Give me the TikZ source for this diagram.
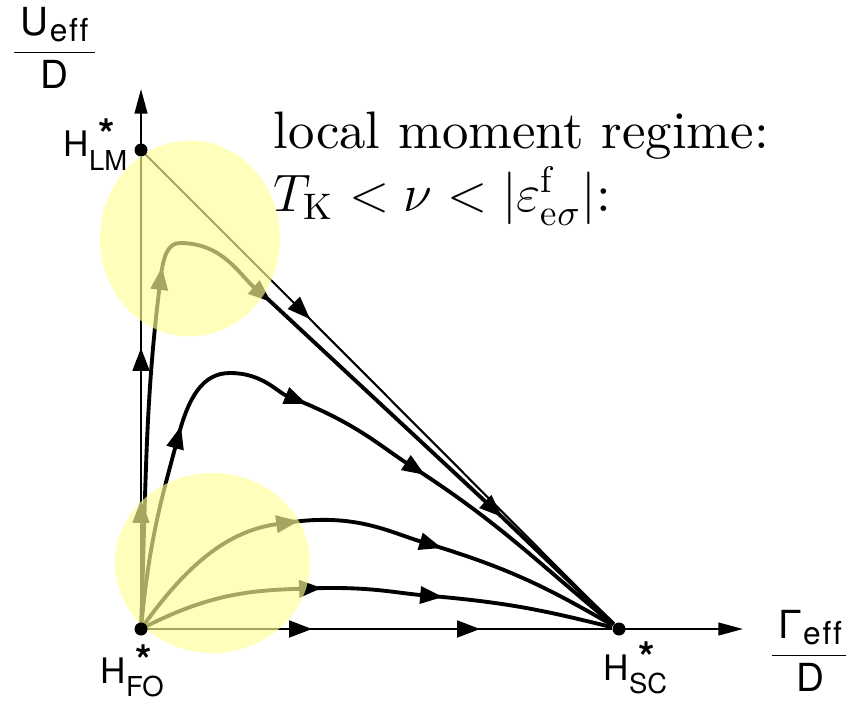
\documentclass[tikz,border=0pt]{standalone}
\usepackage{fix-cm}
\usepackage{amsmath}
\usepackage{fontspec}
\newfontfamily\axisfont{TeX Gyre Heros}
\newfontfamily\regimefont{lmroman10-regular}[Extension=.otf]
\usetikzlibrary{arrows.meta}
\definecolor{glow}{RGB}{255,255,150}
\pgfdeclarelayer{front}
\pgfsetlayers{main,front}
% H^* with a fixed-point index below the star
\newcommand{\hstar}[1]{H\rlap{\kern2.6pt\raisebox{2.2pt}{\fontsize{12}{12}\selectfont\bfseries *}}\raisebox{-3.7pt}{\fontsize{7.8}{8}\selectfont #1}}
\newcommand{\effsub}{\raisebox{-1.6pt}{\fontsize{9}{9}\selectfont e\kern0.5pt f\kern0.5pt f}}
\tikzset{
  axis/.style={line width=0.6pt, shorten <=-2pt, -{Triangle[length=7pt,width=3.6pt]}},
  axisline/.style={line width=0.6pt, shorten <=-2pt},
  thinflow/.style={line width=0.6pt, shorten <=-2pt, -{Triangle[length=6.5pt,width=4.8pt]}},
  flow/.style={line width=1.1pt, shorten <=-3pt, -{Triangle[length=6.5pt,width=4.8pt]}},
  flowend/.style={line width=1.1pt, shorten <=-3pt},
  fixpt/.style={circle, fill=black, inner sep=0pt, minimum size=0.13cm},
  hlabel/.style={font={\axisfont\fontsize{10}{12}\selectfont}, inner sep=0pt, anchor=base west},
  axlabel/.style={font={\axisfont\fontsize{11}{13}\selectfont}, inner sep=0pt, anchor=base},
  regime/.style={font={\regimefont\fontsize{15}{18}\selectfont}, inner sep=0pt, anchor=base west},
  spot/.style={fill=glow, fill opacity=0.65}
}

\begin{document}
\begin{tikzpicture}
  \useasboundingbox (-1.41,-0.78) rectangle (7.05,6.29);

  % fixed points
  \begin{pgfonlayer}{front}
    \node[fixpt] (fo) at (0,0) {};
    \node[fixpt] (lm) at (0,4.79) {};
    \node[fixpt] (sc) at (4.78,0) {};
  \end{pgfonlayer}

  \coordinate (ytip) at (0,5.40);
  \coordinate (xtip) at (6.02,0);
  \coordinate (ya) at (0,1.29);
  \coordinate (yb) at (0,2.81);
  \coordinate (xa) at (1.71,0);
  \coordinate (xb) at (3.39,0);
  \coordinate (ls) at (1.69,3.10);
  \coordinate (h1a) at (0.21,3.62);
  \coordinate (h1top) at (0.39,3.86);
  \coordinate (h1b) at (1.30,3.27);
  \coordinate (h1c) at (3.61,1.12);
  \coordinate (h2a) at (0.40,2.03);
  \coordinate (h2top) at (0.89,2.56);
  \coordinate (h2b) at (1.66,2.25);
  \coordinate (h2c) at (2.84,1.54);
  \coordinate (c3a) at (1.58,1.08);
  \coordinate (c3b) at (3.01,0.81);
  \coordinate (c4a) at (1.81,0.41);
  \coordinate (c4b) at (3.02,0.32);

  % axes
  \draw[thinflow] (fo) -- (ya);
  \draw[thinflow] (ya) -- (yb);
  \draw[axisline] (yb) -- (lm);
  \draw[axis] (lm) -- (ytip);
  \draw[thinflow] (fo) -- (xa);
  \draw[thinflow] (xa) -- (xb);
  \draw[axisline] (xb) -- (sc);
  \draw[axis] (sc) -- (xtip);

  % separatrix LM -> SC
  \draw[thinflow] (lm) -- (ls);
  \draw[axisline] (ls) -- (sc);

  % flow lines
  \draw[flow] (fo) to[out=88,in=-97] (h1a);
  \draw[flow] (h1a) to[out=83,in=180] (h1top) to[out=0,in=139] (h1b);
  \draw[flow] (h1b) -- (h1c);
  \draw[flowend] (h1c) -- (sc);

  \draw[flow] (fo) to[out=85,in=-105] (h2a);
  \draw[flow] (h2a) to[out=75,in=180] (h2top) to[out=0,in=158] (h2b);
  \draw[flow] (h2b) to[out=-22,in=147] (h2c);
  \draw[flowend] (h2c) to[out=-33,in=141] (sc);

  \draw[flow] (fo) to[out=55,in=188] (c3a);
  \draw[flow] (c3a) to[out=8,in=163] (c3b);
  \draw[flowend] (c3b) to[out=-17,in=150] (sc);

  \draw[flow] (fo) to[out=28,in=182] (c4a);
  \draw[flow] (c4a) to[out=2,in=175] (c4b);
  \draw[flowend] (c4b) to[out=-5,in=166] (sc);

  % highlighted regions
  \fill[spot] (0.49,3.905) ellipse [x radius=0.90, y radius=0.98];
  \fill[spot] (0.715,0.66) ellipse [x radius=0.975, y radius=0.90];

  % labels
  \node[hlabel] (lmlabel) at (-0.78,4.72) {\hstar{LM}};
  \node[hlabel] (folabel) at (-0.41,-0.54) {\hstar{FO}};
  \node[hlabel] (sclabel) at (4.62,-0.51) {\hstar{SC}};
  \node[axlabel] (ulabel) at (-0.865,5.67) {$\dfrac{\,\text{U\kern0.4pt\effsub}\,}{\text{D}}$};
  \node[axlabel] (glabel) at (6.69,-0.36) {$\dfrac{\,\text{Γ\kern0.4pt\effsub}\,}{\text{D}}$};
  \node[regime] (regime) at (1.32,4.80) {local moment regime:};
  \node[regime] (cond) at (1.32,4.17) {$T_{\mathrm{K}}<\nu<|\varepsilon^{\mathrm{f}}_{\mathrm{e}\sigma}|$:};
\end{tikzpicture}
\end{document}
